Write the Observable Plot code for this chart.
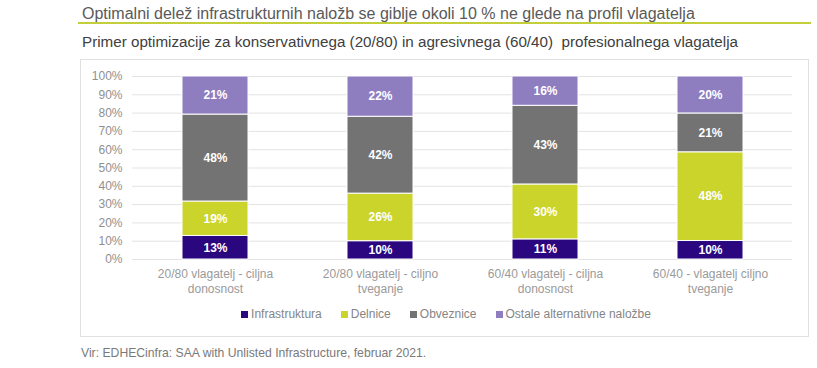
<!DOCTYPE html>
<html>
<head>
<meta charset="utf-8">
<script src="https://cdn.jsdelivr.net/npm/d3@7"></script>
<script src="https://cdn.jsdelivr.net/npm/@observablehq/plot@0.6"></script>
<style>
  html, body { margin: 0; padding: 0; background: #fff; }
  body { width: 817px; height: 368px; position: relative; overflow: hidden; font-family: "Liberation Sans", Arial, sans-serif; }
  .abs { position: absolute; white-space: nowrap; line-height: 1; }
  #title { left: 82px; top: 6px; font-size: 16px; color: #595959; }
  #rule { left: 78px; top: 22px; width: 733px; height: 2px; background: #c3cf3a; }
  #subtitle { left: 82px; top: 34px; font-size: 15.2px; color: #404040; }
  #box { left: 80px; top: 59px; width: 727px; height: 276px; border: 1px solid #e0e0e0; box-sizing: content-box; }
  #chart { left: 0; top: 60px; }
  #legend { left: 0; top: 308px; width: 892px; display: flex; justify-content: center; gap: 19px; font-size: 12px; color: #858585; }
  #legend .item { display: flex; align-items: center; }
  #legend .sw { width: 7px; height: 7px; margin-right: 3px; }
  #source { left: 81px; top: 347px; font-size: 12.2px; color: #7a7a7a; }
</style>
</head>
<body>
<div class="abs" id="title">Optimalni delež infrastrukturnih naložb se giblje okoli 10 % ne glede na profil vlagatelja</div>
<div class="abs" id="rule"></div>
<div class="abs" id="subtitle">Primer optimizacije za konservativnega (20/80) in agresivnega (60/40)&nbsp; profesionalnega vlagatelja</div>
<div class="abs" id="box"></div>
<div class="abs" id="chart"></div>
<div class="abs" id="legend"></div>
<div class="abs" id="source">Vir: EDHECinfra: SAA with Unlisted Infrastructure, februar 2021.</div>
<script>
const categories = [
  "20/80 vlagatelj - ciljna\ndonosnost",
  "20/80 vlagatelj - ciljno\ntveganje",
  "60/40 vlagatelj - ciljna\ndonosnost",
  "60/40 - vlagatelj ciljno\ntveganje"
];
const seriesNames = ["Infrastruktura", "Delnice", "Obveznice", "Ostale alternativne naložbe"];
const infrastruktura = [13, 10, 11, 10];
const delnice = [19, 26, 30, 48];
const obveznice = [48, 42, 43, 21];
const ostale = [21, 22, 16, 20];
const seriesColors = ["#2a067f", "#cbd42a", "#737373", "#8e7dbf"];
const yTicks = [0, 0.1, 0.2, 0.3, 0.4, 0.5, 0.6, 0.7, 0.8, 0.9, 1];

const seriesValues = [infrastruktura, delnice, obveznice, ostale];
const data = [];
categories.forEach((c, i) => {
  seriesNames.forEach((s, j) => {
    data.push({category: c, series: s, value: seriesValues[j][i]});
  });
});

const stackOpts = {x: "category", y: "value", z: "series", order: seriesNames, offset: "normalize"};

const chart = Plot.plot({
  width: 817,
  height: 250,
  marginTop: 16,
  marginBottom: 51,
  marginLeft: 132,
  marginRight: 25,
  style: {fontFamily: "Liberation Sans, Arial, sans-serif", fontSize: "12px", background: "transparent"},
  x: {domain: categories, paddingInner: 0.6, paddingOuter: 0.3, label: null},
  y: {domain: [0, 1], label: null},
  color: {domain: seriesNames, range: seriesColors},
  marks: [
    Plot.gridY(yTicks, {stroke: "#e3e3e3", strokeOpacity: 1}),
    Plot.axisY(yTicks, {tickSize: 0, tickPadding: 10, tickFormat: d3.format(".0%"), fill: "#8f8f8f", fontSize: 12, label: null}),
    Plot.axisX({tickSize: 0, tickPadding: 8, fill: "#9a9a9a", fontSize: 12, lineHeight: 1.22, label: null}),
    Plot.barY(data, Plot.stackY({...stackOpts, fill: "series", stroke: "white", strokeWidth: 1})),
    Plot.text(data, Plot.stackY({...stackOpts, text: d => d.value + "%", fill: "white", fontSize: 12, fontWeight: "bold"}))
  ]
});
document.getElementById("chart").appendChild(chart);

const legend = document.getElementById("legend");
seriesNames.forEach((s, i) => {
  const item = document.createElement("div");
  item.className = "item";
  const sw = document.createElement("span");
  sw.className = "sw";
  sw.style.background = seriesColors[i];
  const label = document.createElement("span");
  label.textContent = s;
  item.appendChild(sw);
  item.appendChild(label);
  legend.appendChild(item);
});
</script>
</body>
</html>
